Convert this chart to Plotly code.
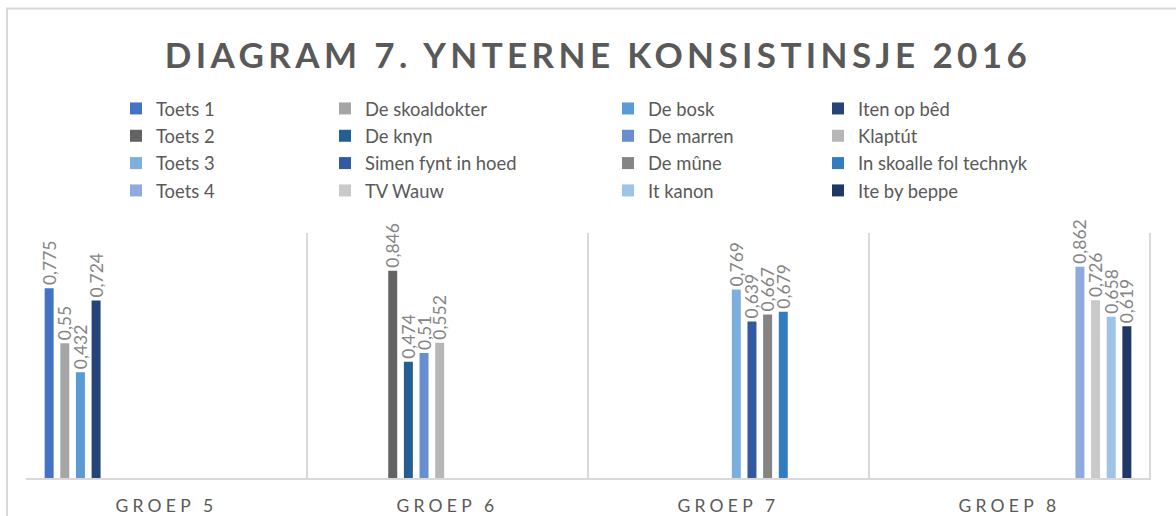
import plotly.graph_objects as go

categories = ["Groep 5", "Groep 6", "Groep 7", "Groep 8"]
tick_labels = ["GROEP 5", "GROEP 6", "GROEP 7", "GROEP 8"]

series_names = [
    "Toets 1", "De skoaldokter", "De bosk", "Iten op bêd",
    "Toets 2", "De knyn", "De marren", "Klaptút",
    "Toets 3", "Simen fynt in hoed", "De mûne", "In skoalle fol technyk",
    "Toets 4", "TV Wauw", "It kanon", "Ite by beppe",
]
# group each series belongs to (index into categories)
series_group = [0, 0, 0, 0, 1, 1, 1, 1, 2, 2, 2, 2, 3, 3, 3, 3]
series_values = [
    0.775, 0.55, 0.432, 0.724,
    0.846, 0.474, 0.51, 0.552,
    0.769, 0.639, 0.667, 0.679,
    0.862, 0.726, 0.658, 0.619,
]
series_colors = [
    "#4472C4", "#A5A5A5", "#5B9BD5", "#264478",
    "#636363", "#255E91", "#698ED0", "#B7B7B7",
    "#7CAFDD", "#335AA1", "#848484", "#327DC2",
    "#8FAADC", "#C9C9C9", "#9DC3E6", "#1F3864",
]

W, H = 1176, 516
FONT = "Lato"
legend_ids = ["legend", "legend2", "legend3", "legend4"]

fig = go.Figure()
for i, name in enumerate(series_names):
    v = series_values[i]
    fig.add_trace(go.Bar(
        name=name,
        legendgroup=f"g{i}",
        x=[categories[series_group[i]]],
        y=[v],
        marker=dict(color=series_colors[i], line=dict(width=0)),
        text=[str(v).replace(".", ",")],
        textposition="outside",
        textangle=-90,
        constraintext="none",
        cliponaxis=False,
        textfont=dict(family=FONT, size=17.5, color="#858585"),
        legend=legend_ids[i % 4],
        hoverinfo="skip",
    ))

legend_x_px = [116, 325, 608, 818]
legend_top_px = 90
legend_common = dict(
    orientation="v", xref="container", yref="container",
    xanchor="left", yanchor="top", tracegroupgap=0.4,
    font=dict(family=FONT, size=18.4, color="#595959"),
    bgcolor="rgba(0,0,0,0)", borderwidth=0,
)
layout_legends = {}
for k, lid in enumerate(legend_ids):
    layout_legends[lid] = dict(x=legend_x_px[k] / W, y=1 - legend_top_px / H, **legend_common)

# plot area in pixels
pl, pr, pt, pb = 26, 1151, 233, 478

fig.update_layout(
    width=W, height=H,
    margin=dict(l=pl, r=W - pr, t=pt, b=H - pb, pad=0, autoexpand=False),
    paper_bgcolor="white", plot_bgcolor="white",
    barmode="group", bargap=0.109, bargroupgap=0.426,
    showlegend=True,
    title=dict(
        text="<b>DIAGRAM 7. YNTERNE KONSISTINSJE 2016</b>",
        xref="container", yref="container",
        x=598 / W, y=1 - 56 / H, xanchor="center", yanchor="middle",
        font=dict(family=FONT, size=35, color="#595959"),
    ),
    xaxis=dict(
        type="category", categoryorder="array", categoryarray=categories,
        tickvals=categories, ticktext=tick_labels, tickangle=0,
        showgrid=False, zeroline=False,
        showline=True, linecolor="#D9D9D9", linewidth=2,
        ticks="", ticklabelstandoff=11,
        tickfont=dict(family=FONT, size=17.5, color="#595959"),
    ),
    yaxis=dict(
        range=[0, 1], visible=False, showgrid=False, zeroline=False,
    ),
    separators=", ",
    **layout_legends,
)

# vertical gridlines between categories and at the right end (category boundaries)
shapes = []
for i in range(1, len(categories) + 1):
    shapes.append(dict(
        type="line", xref="x", yref="y",
        x0=i - 0.5, x1=i - 0.5, y0=0, y1=1,
        line=dict(color="#D9D9D9", width=2), layer="below",
    ))
# chart border (light gray frame)
shapes.append(dict(
    type="rect", xref="paper", yref="paper",
    x0=(7 - pl) / (pr - pl), x1=(1185 - pl) / (pr - pl),
    y0=(pb - 530) / (pb - pt), y1=(pb - 8.5) / (pb - pt),
    line=dict(color="#D9D9D9", width=2), fillcolor="rgba(0,0,0,0)", layer="below",
))
fig.update_layout(shapes=shapes)

post = """
document.body.style.margin='0';
document.body.style.overflow='hidden';
document.documentElement.style.overflow='hidden';
document.querySelectorAll('.gtitle').forEach(function(e){e.style.letterSpacing='4.4px';});
document.querySelectorAll('.xtick text').forEach(function(e){e.style.letterSpacing='4.2px';});
"""
fig.write_html("out.html", post_script=post, config={"displayModeBar": False, "staticPlot": True})
